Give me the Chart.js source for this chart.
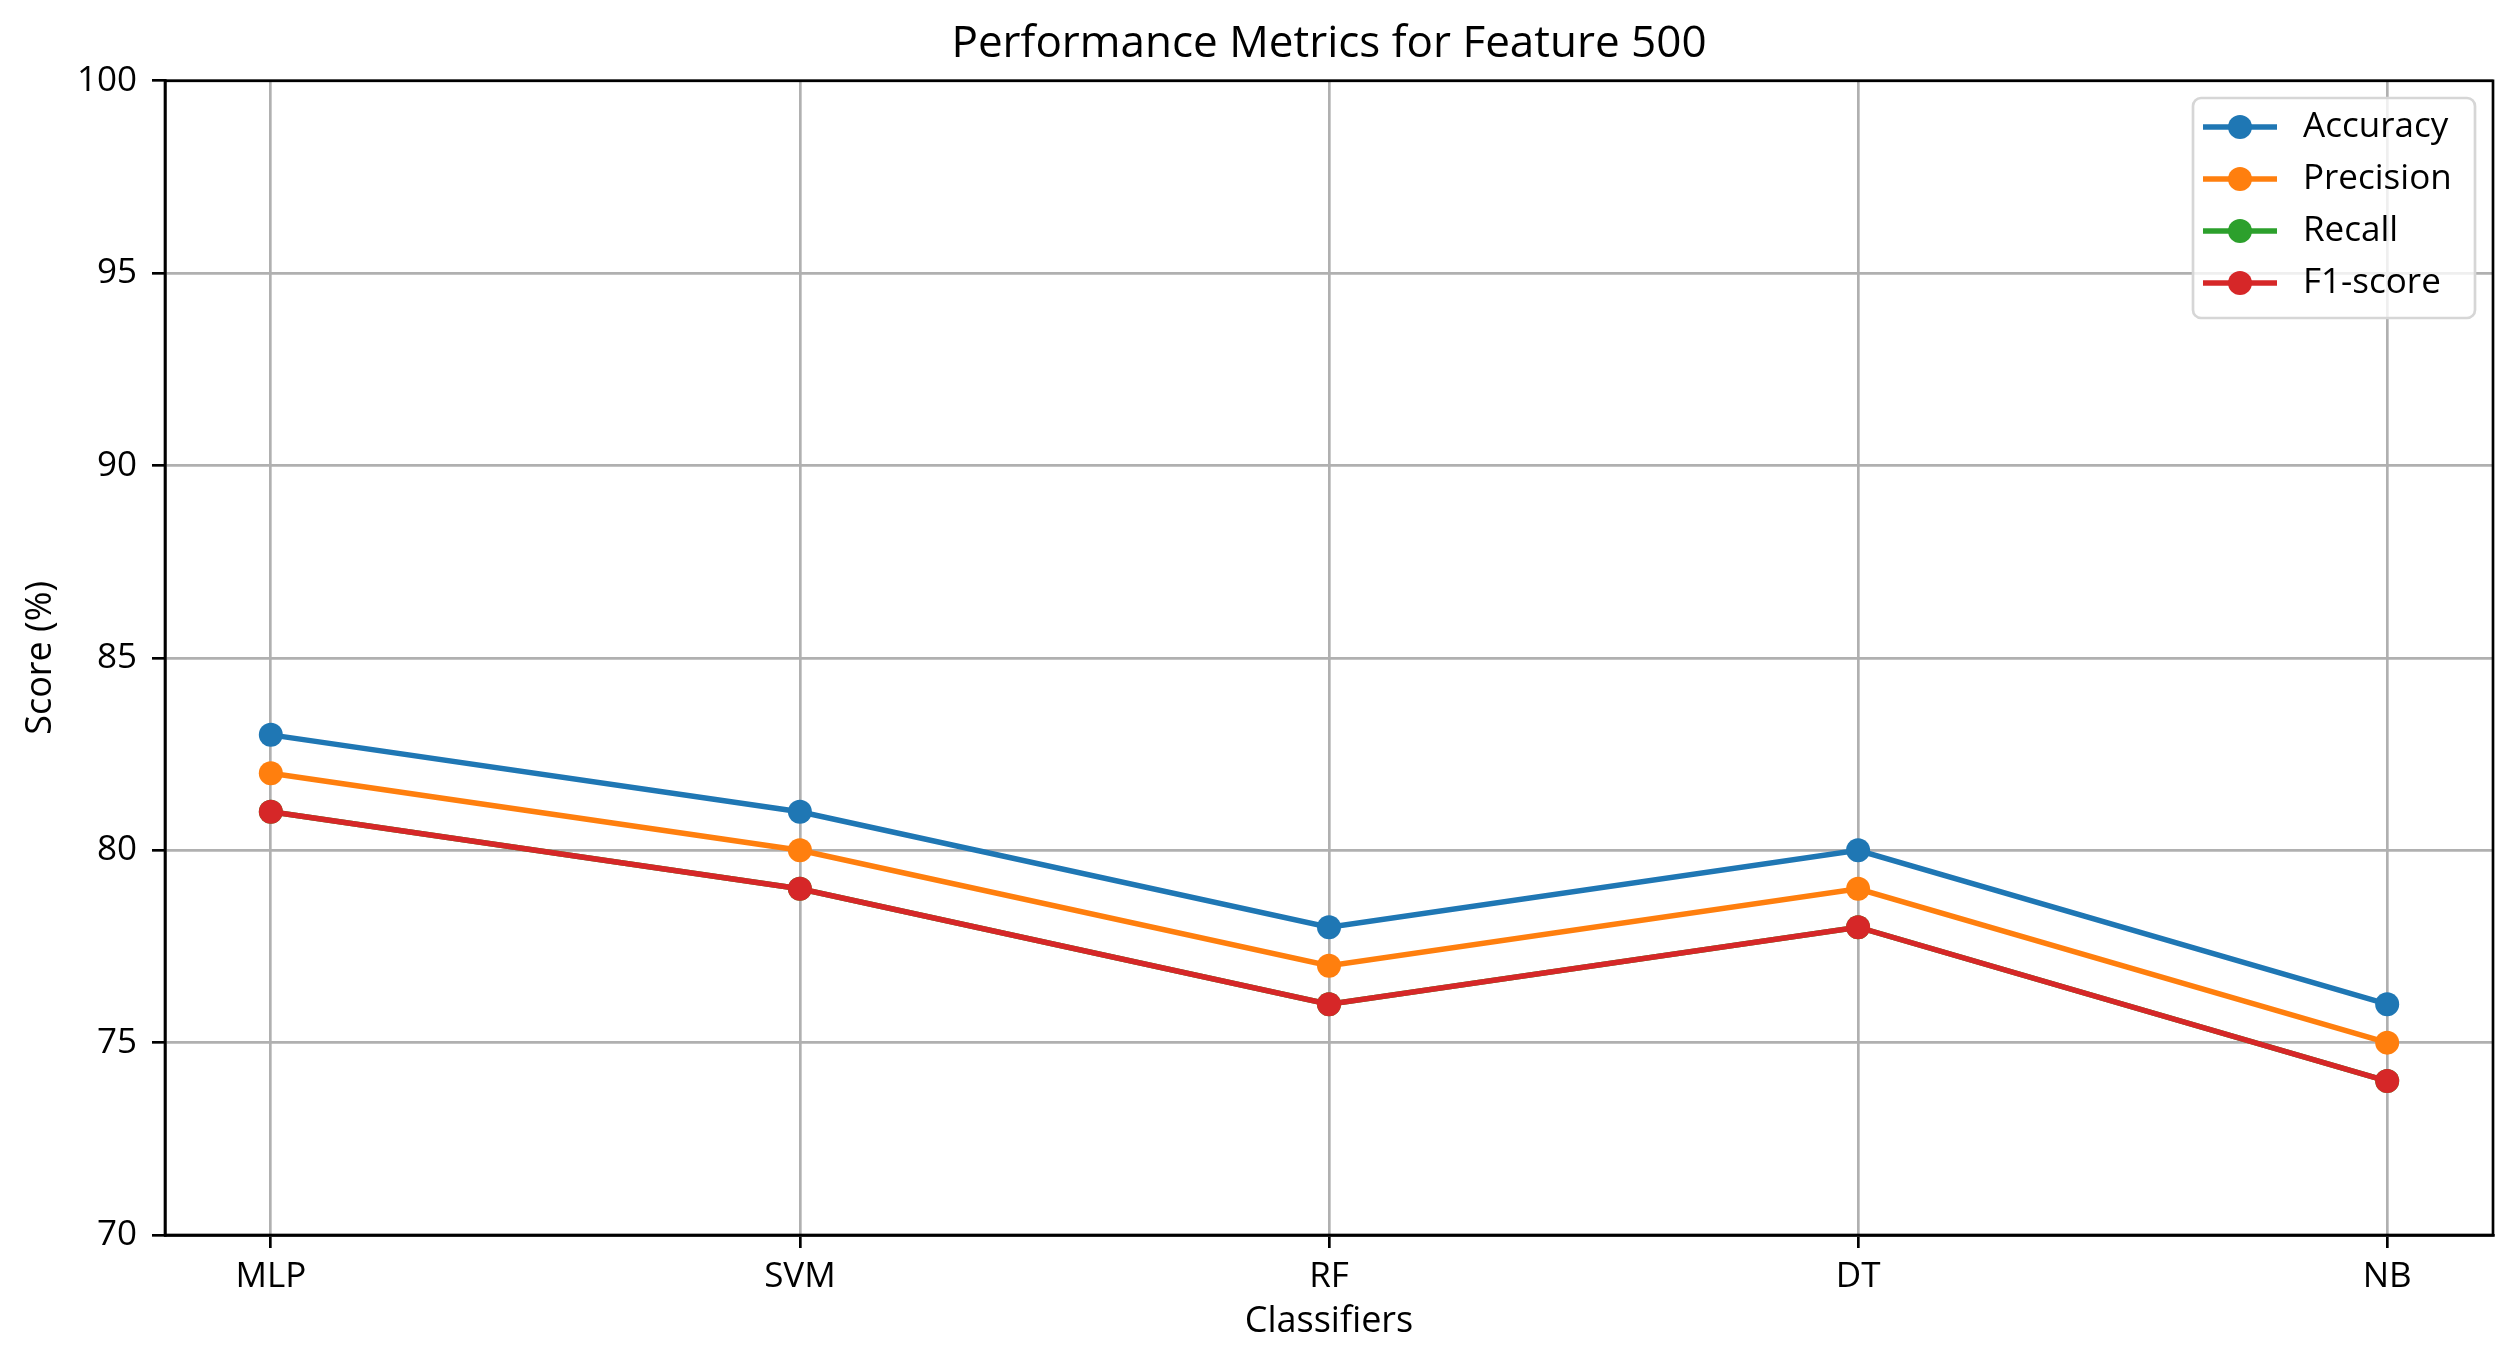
<!DOCTYPE html>
<html>
<head>
<meta charset="utf-8">
<script src="https://cdn.jsdelivr.net/npm/chart.js@4.4.1/dist/chart.umd.min.js"></script>
<style>
  html, body { margin: 0; padding: 0; background: #fff; }
  #wrap { width: 2520px; height: 1356px; }
</style>
</head>
<body>
<div id="wrap"><canvas id="chart" width="2520" height="1356"></canvas></div>
<script>
const classifiers = ["MLP", "SVM", "RF", "DT", "NB"];
const accuracy = [83, 81, 78, 80, 76];
const precision = [82, 80, 77, 79, 75];
const recall = [81, 79, 76, 78, 74];
const f1score = [81, 79, 76, 78, 74];
const yTicks = [70, 75, 80, 85, 90, 95, 100];

const FONT = "'Open Sans', sans-serif";
const LW = 2.67;

const toPoints = (vals) => vals.map((v, i) => ({ x: i, y: v }));

function series(label, vals, color, order) {
  return {
    label,
    data: toPoints(vals),
    borderColor: color,
    backgroundColor: color,
    borderWidth: 5.5,
    pointRadius: 12,
    pointHoverRadius: 12,
    pointBorderWidth: 0,
    tension: 0,
    order,
  };
}

// box around the plot + legend inside the top right corner
const framePlugin = {
  id: "frame",
  afterDraw(chart) {
    const { ctx, chartArea: a } = chart;
    ctx.save();
    ctx.strokeStyle = "#000";
    ctx.lineWidth = LW;
    ctx.strokeRect(a.left, a.top, a.right - a.left, a.bottom - a.top);

    const x = 2193, y = 98, w = 282, h = 220, r = 8;
    ctx.beginPath();
    ctx.roundRect(x, y, w, h, r);
    ctx.fillStyle = "rgba(255,255,255,0.8)";
    ctx.fill();
    ctx.strokeStyle = "#d6d6d6";
    ctx.lineWidth = LW;
    ctx.stroke();

    ctx.font = "35px " + FONT;
    ctx.textBaseline = "middle";
    ctx.textAlign = "left";
    chart.data.datasets.forEach((ds, i) => {
      const cy = 127 + i * 52;
      ctx.strokeStyle = ds.borderColor;
      ctx.lineWidth = 5.5;
      ctx.beginPath();
      ctx.moveTo(2203, cy);
      ctx.lineTo(2277, cy);
      ctx.stroke();
      ctx.fillStyle = ds.backgroundColor;
      ctx.beginPath();
      ctx.arc(2240, cy, 12, 0, Math.PI * 2);
      ctx.fill();
      ctx.fillStyle = "#000";
      ctx.fillText(ds.label, 2303, cy);
    });
    ctx.restore();
  },
};

new Chart(document.getElementById("chart"), {
  type: "line",
  data: {
    datasets: [
      series("Accuracy", accuracy, "#1f77b4", 4),
      series("Precision", precision, "#ff7f0e", 3),
      series("Recall", recall, "#2ca02c", 2),
      series("F1-score", f1score, "#d62728", 1),
    ],
  },
  options: {
    responsive: false,
    animation: false,
    devicePixelRatio: 1,
    layout: { padding: { top: 0, right: 27, bottom: 0, left: 0 } },
    plugins: {
      legend: { display: false },
      tooltip: { enabled: false },
      title: {
        display: true,
        fullSize: false,
        text: "Performance Metrics for Feature 500",
        color: "#000",
        font: { family: FONT, size: 44, weight: "normal", lineHeight: 1.2 },
        padding: { top: 18, bottom: 10 },
      },
    },
    scales: {
      x: {
        type: "linear",
        min: -0.2,
        max: 4.2,
        afterBuildTicks(scale) {
          scale.ticks = classifiers.map((_, i) => ({ value: i }));
        },
        afterFit(scale) {
          scale.height = 121;
        },
        ticks: {
          color: "#000",
          font: { family: FONT, size: 35 },
          padding: 8,
          maxRotation: 0,
          autoSkip: false,
          callback: (v) => classifiers[v],
        },
        grid: {
          color: "#b0b0b0",
          lineWidth: LW,
          tickColor: "#000",
          tickLength: 13,
          tickWidth: LW,
        },
        border: { display: true, color: "#000", width: LW },
        title: {
          display: true,
          text: "Classifiers",
          color: "#000",
          font: { family: FONT, size: 36 },
          padding: { top: 0, bottom: 13 },
        },
      },
      y: {
        min: 70,
        max: 100,
        afterBuildTicks(scale) {
          scale.ticks = yTicks.map((v) => ({ value: v }));
        },
        afterFit(scale) {
          scale.width = 165;
        },
        ticks: {
          color: "#000",
          font: { family: FONT, size: 35 },
          padding: 15,
        },
        grid: {
          color: "#b0b0b0",
          lineWidth: LW,
          tickColor: "#000",
          tickLength: 13,
          tickWidth: LW,
        },
        border: { display: true, color: "#000", width: LW },
        title: {
          display: true,
          text: "Score (%)",
          color: "#000",
          font: { family: FONT, size: 36 },
          padding: { top: 19, bottom: 0 },
        },
      },
    },
  },
  plugins: [framePlugin],
});
</script>
</body>
</html>
